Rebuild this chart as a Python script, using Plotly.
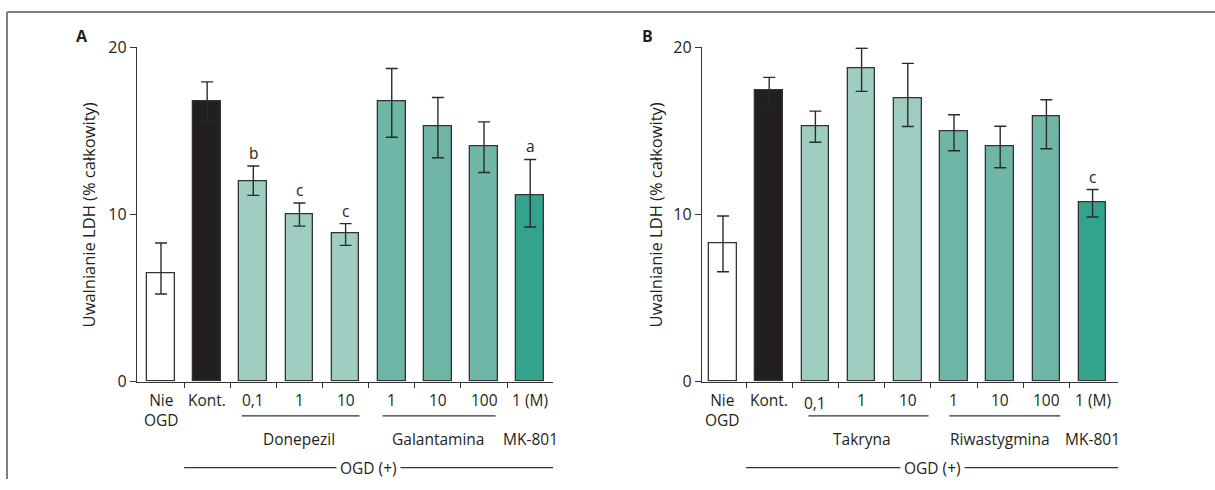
import plotly.graph_objects as go

W, H = 1215, 490

# ---------------- data ----------------
cats = ["Nie<br>OGD", "Kont.", "0,1", "1", "10", "1", "10", "100", "1 (M)"]
groups_A = ["Donepezil", "Galantamina", "MK-801"]
groups_B = ["Takryna", "Riwastygmina", "MK-801"]

vals_A = [6.45, 16.75, 12.0, 10.0, 8.87, 16.75, 15.28, 14.05, 11.15]
errup_A = [1.84, 1.18, 0.9, 0.68, 0.58, 1.98, 1.72, 1.49, 2.14]
errdn_A = [1.21, 1.18, 0.86, 0.7, 0.72, 2.13, 1.89, 1.54, 1.9]
sig_A = ["", "", "b", "c", "c", "", "", "", "a"]

vals_B = [8.25, 17.4, 15.28, 18.76, 16.96, 15.0, 14.07, 15.86, 10.71]
errup_B = [1.66, 0.8, 0.9, 1.18, 2.08, 0.96, 1.21, 1.0, 0.78]
errdn_B = [1.68, 0.8, 0.96, 1.4, 1.7, 1.19, 1.28, 1.93, 0.86]
sig_B = ["", "", "", "", "", "", "", "", "c"]

colors = ["#ffffff", "#231f20", "#9fcdc1", "#9fcdc1", "#9fcdc1",
          "#6fb6a6", "#6fb6a6", "#6fb6a6", "#33a38d"]

ytitle = "Uwalnianie LDH (% całkowity)"
FONT = "Open Sans"
TXT = "#231f20"
FS = 15.5

def py(y):
    return (H - y) / H

def px(x):
    return x / W

Y_TOP, Y_BOT = 38, 388          # y = 20 and y = 0
Y_LAB, Y_LINE, Y_GRP, Y_OGD = 394, 424, 448, 478

fig = go.Figure()

panels = [
    dict(x="x", y="y", xa="xaxis", ya="yaxis", vals=vals_A, up=errup_A, dn=errdn_A,
         sig=sig_A, groups=groups_A, dom=(137, 553), c0=161, step=46.15,
         lines=[(1.75, 4.3), (4.8, 7.25)], letter="A", letter_px=82, title_px=88,
         shift01=0),
    dict(x="x2", y="y2", xa="xaxis2", ya="yaxis2", vals=vals_B, up=errup_B, dn=errdn_B,
         sig=sig_B, groups=groups_B, dom=(702, 1118), c0=723, step=46.2,
         lines=[(1.85, 4.45), (4.9, 7.3)], letter="B", letter_px=647, title_px=655,
         shift01=-3),
]

annotations = []
shapes = []
layout = {}

for p in panels:
    xs = list(range(len(cats)))
    fig.add_trace(go.Bar(
        x=xs, y=p["vals"], width=0.6, xaxis=p["x"], yaxis=p["y"],
        marker=dict(color=colors, line=dict(color="#333333", width=1.3)),
        error_y=dict(type="data", symmetric=False, array=p["up"], arrayminus=p["dn"],
                     color="#2b2b2b", thickness=1.4, width=6),
        showlegend=False, hoverinfo="skip",
    ))
    left = (p["dom"][0] - p["c0"]) / p["step"]
    right = (p["dom"][1] - p["c0"]) / p["step"]
    layout[p["xa"]] = dict(
        domain=[px(p["dom"][0]), px(p["dom"][1])], range=[left, right],
        anchor=p["y"], showline=True, linecolor="#333333", linewidth=1.3,
        tickvals=[i + 0.5 for i in range(8)], ticktext=[""] * 8,
        ticks="outside", ticklen=5, tickcolor="#333333", tickwidth=1.3,
        showgrid=False, zeroline=False, fixedrange=True,
    )
    layout[p["ya"]] = dict(
        domain=[py(Y_BOT), py(Y_TOP)], range=[0, 20], anchor=p["x"],
        showline=True, linecolor="#333333", linewidth=1.3,
        tickvals=[0, 10, 20], ticks="outside", ticklen=6, tickcolor="#333333",
        tickwidth=1.3, tickfont=dict(family=FONT, size=16, color=TXT),
        showgrid=False, zeroline=False, fixedrange=True,
    )
    # category labels
    for i, c in enumerate(cats):
        annotations.append(dict(
            x=i, xref=p["x"], y=py(Y_LAB), yref="paper", text=c, showarrow=False,
            yanchor="top", xanchor="center", yshift=p["shift01"] if i == 2 else 0,
            font=dict(family=FONT, size=FS, color=TXT),
        ))
    # group underlines
    for (a, b) in p["lines"]:
        shapes.append(dict(type="line", xref=p["x"], yref="paper", x0=a, x1=b,
                           y0=py(Y_LINE), y1=py(Y_LINE),
                           line=dict(color="#333333", width=1.2)))
    # group labels
    for gx, g in zip([3, 6, 8], p["groups"]):
        annotations.append(dict(
            x=gx, xref=p["x"], y=py(Y_GRP), yref="paper", text=g, showarrow=False,
            yanchor="middle", xanchor="center",
            font=dict(family=FONT, size=FS, color=TXT),
        ))
    # OGD (+) line and text
    shapes.append(dict(type="line", xref=p["x"], yref="paper", x0=0.5, x1=right,
                       y0=py(Y_OGD), y1=py(Y_OGD), line=dict(color="#333333", width=1.2)))
    annotations.append(dict(
        x=(0.5 + right) / 2, xref=p["x"], y=py(Y_OGD), yref="paper", text="OGD (+)",
        showarrow=False, yanchor="middle", xanchor="center", bgcolor="white",
        borderpad=3, font=dict(family=FONT, size=FS, color=TXT),
    ))
    # significance letters
    for i, s in enumerate(p["sig"]):
        if s:
            annotations.append(dict(
                x=i, xref=p["x"], y=p["vals"][i] + p["up"][i], yref=p["y"], text=s,
                showarrow=False, yanchor="bottom", xanchor="center", yshift=0,
                font=dict(family=FONT, size=FS, color=TXT),
            ))
    # y title
    annotations.append(dict(
        x=px(p["title_px"]), xref="paper", y=py(214), yref="paper", text=ytitle,
        textangle=-90, showarrow=False, xanchor="center", yanchor="middle",
        font=dict(family=FONT, size=16.5, color=TXT),
    ))
    # panel letter
    annotations.append(dict(
        x=px(p["letter_px"]), xref="paper", y=py(26), yref="paper",
        text="<b>%s</b>" % p["letter"], showarrow=False, xanchor="center",
        yanchor="middle", font=dict(family=FONT, size=16, color=TXT),
    ))

# outer frame (left and top)
shapes.append(dict(type="line", xref="paper", yref="paper", x0=px(7), x1=1,
                   y0=py(1), y1=py(1), line=dict(color="#7f7f7f", width=2)))
shapes.append(dict(type="line", xref="paper", yref="paper", x0=px(7), x1=px(7),
                   y0=0, y1=py(1), line=dict(color="#7f7f7f", width=2)))

fig.update_layout(
    width=W, height=H, autosize=False,
    margin=dict(l=0, r=0, t=0, b=0),
    paper_bgcolor="white", plot_bgcolor="white",
    annotations=annotations, shapes=shapes, bargap=0,
    font=dict(family=FONT, color=TXT),
    **layout,
)

fig.write_html("out.html", config={"displayModeBar": False},
               post_script="document.body.style.margin='0';document.body.style.overflow='hidden';")
